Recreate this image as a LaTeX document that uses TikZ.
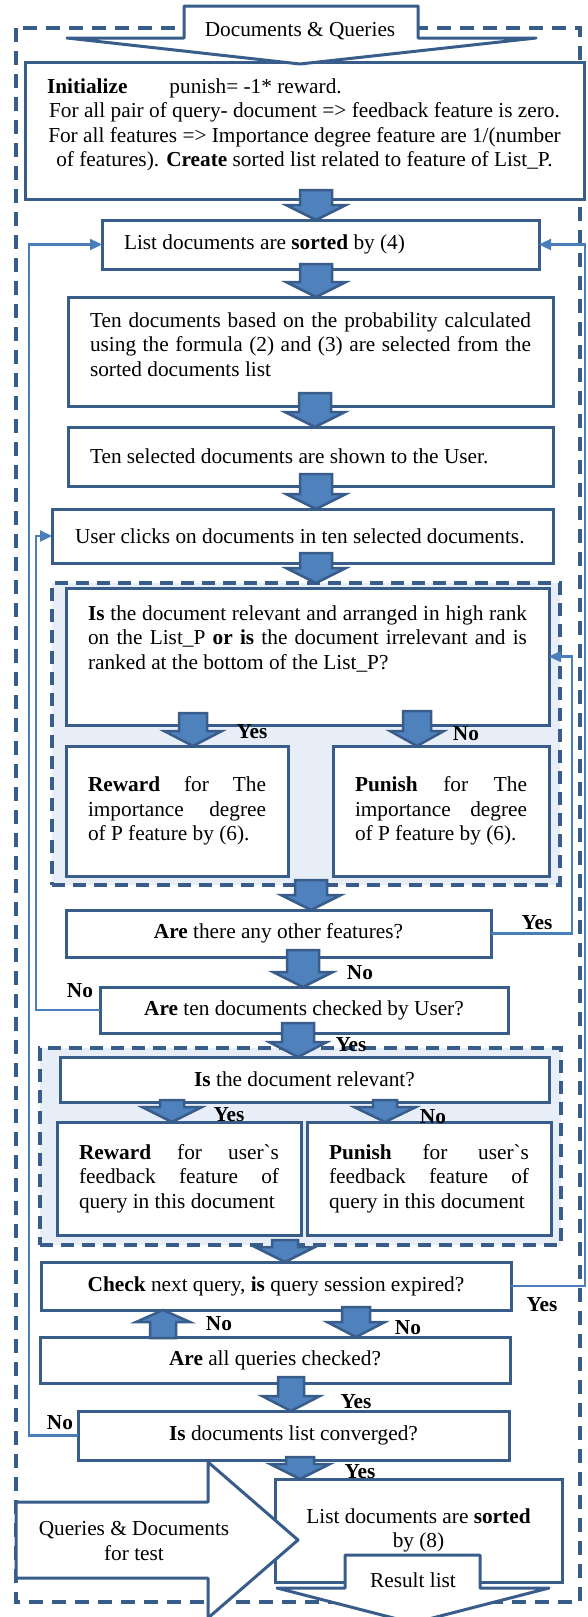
\documentclass[tikz,border=0pt]{standalone}
\usepackage{fontspec}
\setmainfont{Liberation Serif}
\newfontfamily\plainserif{Liberation Serif}
\usetikzlibrary{calc,arrows.meta}
\definecolor{boxc}{RGB}{56,93,138}
\definecolor{arrf}{RGB}{79,129,189}
\definecolor{fbc}{RGB}{74,126,187}
\definecolor{panelf}{RGB}{232,238,247}
\newcommand\jl[2]{\makebox[#1][s]{#2}}
\newcommand\grv{{\plainserif\symbol{96}}}
% down block arrow: #1 x centre, #2 from node, #3 to node, #4 overlap, #5 shaft half width, #6 head half width
\newcommand\darr[6]{\draw[barrow] let \p1=(#2.south), \p2=(#3.north) in
 ({#1-#5},{\y1+#4pt}) -- ({#1+#5},{\y1+#4pt}) -- ({#1+#5},{\y2+15pt}) -- ({#1+#6},{\y2+15pt}) -- (#1,\y2) -- ({#1-#6},{\y2+15pt}) -- ({#1-#5},{\y2+15pt}) -- cycle;}
% up block arrow
\newcommand\uarr[5]{\draw[barrow] let \p1=(#2.north), \p2=(#3.south) in
 ({#1-#4},{\y1-1pt}) -- ({#1+#4},{\y1-1pt}) -- ({#1+#4},{\y2-12pt}) -- ({#1+#5},{\y2-12pt}) -- (#1,\y2) -- ({#1-#5},{\y2-12pt}) -- ({#1-#4},{\y2-12pt}) -- cycle;}
\begin{document}
\begin{tikzpicture}[x=1pt,y=-1pt,
  every node/.style={font=\fontsize{21.3}{24.5}\selectfont},
  box/.style={draw=boxc,line width=3pt,fill=white,inner sep=0pt,outer sep=0pt,anchor=north west},
  panel/.style={draw=boxc,line width=3.3pt,fill=panelf,dash pattern=on 13pt off 8pt,inner sep=0pt,outer sep=0pt,anchor=north west},
  outer/.style={draw=boxc,line width=3.5pt,dash pattern=on 14pt off 9pt},
  barrow/.style={draw=boxc,line width=2.5pt,fill=arrf,line join=miter},
  bigarrow/.style={draw=boxc,line width=3pt,fill=white,line join=round},
  fb/.style={draw=fbc,line width=2.3pt,-{Triangle[length=12pt,width=11pt]}},
  lbl/.style={font=\fontsize{21.3}{24.5}\selectfont\bfseries,inner sep=0pt},
  txt/.style={inner sep=0pt,align=center}
]
\useasboundingbox (0,0) rectangle (587,1617);
\clip (0,0) rectangle (587,1617);
\draw[outer] (16,28) rectangle (580,1602);

% ---- boxes
\node[box,minimum width=559pt,minimum height=137pt] (init) at (25,62) {\parbox[c][137pt][t]{521pt}{\centering\vspace*{16.5pt}\makebox[515pt][l]{\textbf{Initialize}\hspace{42pt}punish= -1* reward.}\\For all pair of query- document => feedback feature is zero.\\For all features => Importance degree feature are 1/(number\\of features). \textbf{Create} sorted list related to feature of List\_P.}};
\draw[bigarrow] (184,6) -- (418,6) -- (418,38) -- (536,38) -- (300,64) -- (67,38) -- (184,38) -- cycle;
\node[txt] (dq) at (300,31) {Documents \& Queries};

\node[box,minimum width=437pt,minimum height=49pt] (list) at (102,220) {\makebox[393pt][l]{List documents are \textbf{sorted} by (4)}};
\node[box,minimum width=485pt,minimum height=109pt] (tendocs) at (68,297) {\parbox[c][109pt][t]{441pt}{\vspace*{15.5pt}\jl{441pt}{Ten documents based on the probability calculated}\\\jl{441pt}{using the formula (2) and (3) are selected from the}\\sorted documents list}};
\node[box,minimum width=485pt,minimum height=59pt] (shown) at (68,427) {\makebox[441pt][l]{Ten selected documents are shown to the User.}};
\node[box,minimum width=501pt,minimum height=54pt] (clicks) at (52,509) {\makebox[455pt][l]{User clicks on documents in ten selected documents.}};

\node[panel,minimum width=508pt,minimum height=302pt] (p1) at (52,583) {};
\node[box,minimum width=483pt,minimum height=137pt] (isdoc) at (66,588) {\parbox[c][137pt][t]{439pt}{\vspace*{17.5pt}\jl{439pt}{\textbf{Is} the document relevant and arranged in high rank}\\\jl{439pt}{on the List\_P \textbf{or is} the document irrelevant and is}\\ranked at the bottom of the List\_P?}};
\node[box,minimum width=222pt,minimum height=130pt] (reward) at (66,746) {\parbox{178pt}{\jl{178pt}{\textbf{Reward} for The}\\\jl{178pt}{importance degree}\\of P feature by (6).}};
\node[box,minimum width=216pt,minimum height=130pt] (punish) at (333,746) {\parbox{172pt}{\jl{172pt}{\textbf{Punish} for The}\\\jl{172pt}{importance degree}\\of P feature by (6).}};

\node[box,minimum width=425pt,minimum height=47pt] (feat) at (66,910) {\textbf{Are} there any other features?};
\node[box,minimum width=408pt,minimum height=46pt] (tencheck) at (100,987) {\textbf{Are} ten documents checked by User?};

\node[panel,minimum width=521pt,minimum height=197pt] (p2) at (40,1048) {};
\node[box,minimum width=489pt,minimum height=45pt] (isrel) at (60,1057) {\textbf{Is} the document relevant?};
\node[box,minimum width=244pt,minimum height=113pt] (rewardu) at (57,1122) {\parbox{200pt}{\jl{200pt}{\textbf{Reward} for user\grv s}\\\jl{200pt}{feedback feature of}\\query in this document}};
\node[box,minimum width=244pt,minimum height=113pt] (punishu) at (307,1122) {\parbox{200pt}{\jl{200pt}{\textbf{Punish} for user\grv s}\\\jl{200pt}{feedback feature of}\\query in this document}};

\node[box,minimum width=470pt,minimum height=48pt] (check) at (41,1262) {\textbf{Check} next query, \textbf{is} query session expired?};
\node[box,minimum width=470pt,minimum height=46pt] (allq) at (40,1337) {\textbf{Are} all queries checked?};
\node[box,minimum width=431pt,minimum height=49pt] (conv) at (78,1411) {\textbf{Is} documents list converged?};
\node[box,minimum width=287pt,minimum height=103pt,align=center] (sorted) at (275,1479) {List documents are \textbf{sorted}\\by (8)};

% ---- bottom big arrows
\draw[bigarrow] (345,1555) -- (480,1555) -- (480,1588) -- (549,1588) -- (413,1623) -- (277,1588) -- (345,1588) -- cycle;
\node[txt] (rl) at (413,1580) {Result list};
\draw[bigarrow] (16,1502) -- (208,1502) -- (208,1462) -- (298,1540) -- (208,1618) -- (208,1578) -- (16,1578) -- cycle;
\node[txt] (qd) at (134,1541) {Queries \& Documents\\for test};

% ---- block arrows
\darr{316}{init}{list}{9}{16}{30}
\darr{316}{list}{tendocs}{5}{16}{30}
\darr{315}{tendocs}{shown}{13}{16}{30}
\darr{316}{shown}{clicks}{12}{16}{30}
\darr{316}{clicks}{p1}{10}{16}{30}
\darr{193}{isdoc}{reward}{12}{14}{29}
\darr{417}{isdoc}{punish}{14}{14}{27}
\darr{311}{p1}{feat}{5}{16}{30}
\darr{303}{feat}{tencheck}{7}{16}{30}
\darr{298}{tencheck}{isrel}{10}{16}{29}
\darr{172}{isrel}{rewardu}{2}{12}{30}
\darr{385}{isrel}{punishu}{2}{12}{31}
\darr{285}{p2}{check}{5}{13}{30}
\darr{356}{check}{allq}{3}{14}{29}
\uarr{163}{allq}{check}{13}{27}
\darr{291}{allq}{conv}{6}{13}{29}
\darr{300}{conv}{sorted}{3}{14}{30}

% ---- feedback connectors
\draw[fb] (conv.west) -- ++(-49,0) |- (list.west);
\draw[fb] (tencheck.west) -- ++(-64,0) |- (clicks.west);
\draw[fb] (feat.east) -- ++(81,0) |- (isdoc.east);
\draw[fb] (check.east) -- ++(74,0) |- (list.east);

% ---- labels
\node[lbl] (l1) at (252,732) {Yes};
\node[lbl] (l2) at (466,734) {No};
\node[lbl] (l3) at (537,923) {Yes};
\node[lbl] (l4) at (360,973) {No};
\node[lbl] (l5) at (80,991) {No};
\node[lbl] (l6) at (351,1045) {Yes};
\node[lbl] (l7) at (229,1115) {Yes};
\node[lbl] (l8) at (433,1117) {No};
\node[lbl] (l9) at (542,1305) {Yes};
\node[lbl] (l10) at (219,1324) {No};
\node[lbl] (l11) at (408,1328) {No};
\node[lbl] (l12) at (356,1402) {Yes};
\node[lbl] (l13) at (60,1423) {No};
\node[lbl] (l14) at (360,1472) {Yes};
\end{tikzpicture}
\end{document}
